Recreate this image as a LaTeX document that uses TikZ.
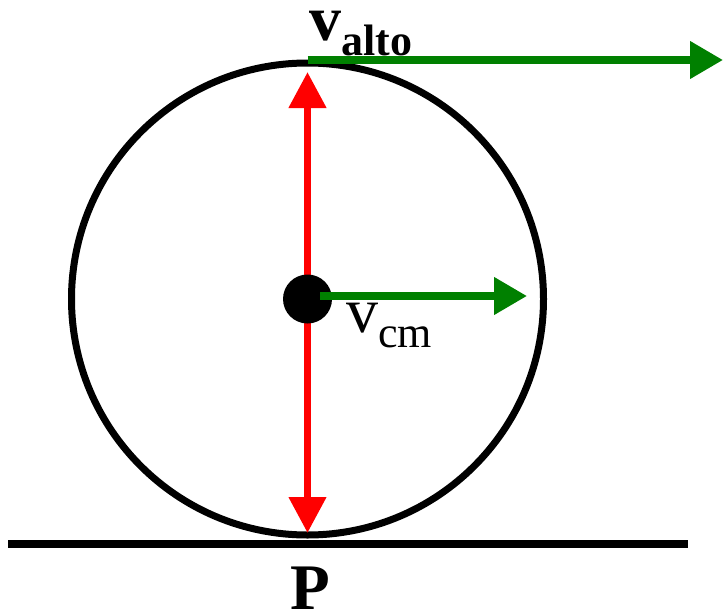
\documentclass[tikz,border=0pt]{standalone}
\usepackage{fontspec}
\setmainfont{Liberation Serif}
\usetikzlibrary{arrows.meta}
\definecolor{velgreen}{RGB}{0,128,0}
\tikzset{
  wheel/.style={draw=black, line width=7pt},
  ground/.style={draw=black, line width=8.5pt},
  vel/.style={draw=velgreen, line width=7.5pt, -{Triangle[length=33pt, width=36pt]}},
  diam/.style={draw=red, line width=7.5pt, {Triangle[length=36pt, width=36pt]}-{Triangle[length=36pt, width=36pt]}},
  lbl/.style={inner sep=0pt, text=black},
}
\newcommand{\bigsize}{\fontsize{64}{64}\selectfont}
\newcommand{\subsize}{\fontsize{44}{44}\selectfont}

\begin{document}
\begin{tikzpicture}[x=1pt, y=-1pt]
\useasboundingbox (0,0) rectangle (723,613);
\coordinate (c) at (307.5,299);
\coordinate (top) at (307.5,72);
\coordinate (bot) at (307.5,533);
\coordinate (altos) at (307.5,60);
\coordinate (altoe) at (723,60);
\coordinate (cms) at (320,296);
\coordinate (cme) at (527,296);
\coordinate (gl) at (8,544);
\coordinate (gr) at (688,544);
\draw[ground] (gl)--(gr);
\draw[wheel] (c) circle[radius=236];
\draw[diam] (top)--(bot);
\fill[black] (c) circle[radius=24.5];
\draw[vel] (cms)--(cme);
\draw[vel] (altos)--(altoe);
\node[lbl, anchor=base west] (valto) at (309,40) {\bigsize\bfseries v\raisebox{-15pt}{\subsize alto}};
\node[lbl, anchor=base west] (vcm) at (346,332) {\bigsize v\raisebox{-15pt}{\subsize cm}};
\node[lbl, anchor=base] (p) at (310,609) {\fontsize{65}{65}\selectfont\bfseries P};
\end{tikzpicture}
\end{document}
